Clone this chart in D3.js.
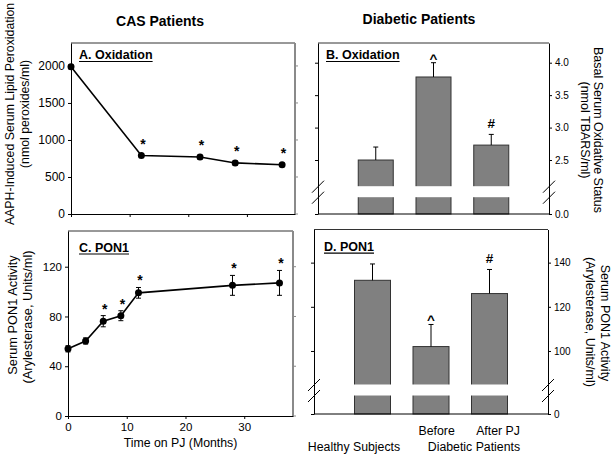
<!DOCTYPE html>
<html><head><meta charset="utf-8">
<script src="https://cdn.jsdelivr.net/npm/d3@7"></script>
<style>
body{margin:0;background:#fff}
svg{display:block}
text{font-family:"Liberation Sans",Arial,Helvetica,sans-serif;fill:#000}
</style>
</head><body>
<svg id="chart" width="614" height="460"></svg>
<script>
// ---------- data ----------
const monthsA = [0, 12, 22, 28, 36];
const oxidationA = [1990, 790, 770, 690, 665];
const oxidationAErr = [30, 22, 28, 30, 22];
const starsA = [false, true, true, true, true];

const monthsC = [0, 3, 6, 9, 12, 28, 36];
const pon1C = [54, 60.3, 76.2, 80.6, 99, 105, 107];
const pon1CErr = [2.5, 2.5, 4.5, 4, 4.3, 8, 10];
const starsC = [false, false, true, true, true, true, true];

const groups = ["Healthy Subjects", "Before", "After PJ"];
const oxidationB = [2.5, 3.78, 2.73];
const oxidationBErr = [0.2, 0.22, 0.165];
const marksB = ["", "^", "#"];

const pon1D = [132, 102, 126];
const pon1DErr = [7.4, 10, 10.9];
const marksD = ["", "^", "#"];

const ticksA = [0, 500, 1000, 1500, 2000];
const ticksAx = [0, 10, 20, 30];
const ticksC = [0, 40, 80, 120];
const ticksCx = [0, 10, 20, 30];
const ticksB = [0, 2.5, 3.0, 3.5, 4.0];
const ticksD = [0, 100, 120, 140];

const columnTitles = ["CAS Patients", "Diabetic Patients"];
const panelTitles = ["A. Oxidation", "B. Oxidation", "C. PON1", "D. PON1"];
const catLabelsD = ["Before", "After PJ"];
const groupLabelsD = ["Healthy Subjects", "Diabetic Patients"];

// ---------- drawing ----------
const svg = d3.select("#chart");
const BAR = "#808080";

function frame(g, x0, x1, y0, y1, rightGrey, yScale, ticks) {
  g.append("line").attr("x1", x0).attr("x2", x1).attr("y1", y0).attr("y2", y0)
    .attr("stroke", "#333").attr("stroke-width", 1);
  if (rightGrey) {
    g.append("line").attr("x1", x1).attr("x2", x1).attr("y1", y0).attr("y2", y1)
      .attr("stroke", "#8a8a8a").attr("stroke-width", 2);
    g.selectAll(null).data(ticks).join("line")
      .attr("x1", x1).attr("x2", x1 + 3)
      .attr("y1", d => yScale(d)).attr("y2", d => yScale(d))
      .attr("stroke", "#8a8a8a");
  }
}

function styleAxis(a, size) {
  a.select(".domain").attr("stroke", "#000").attr("stroke-width", 1);
  a.selectAll(".tick line").attr("stroke", "#000");
  a.selectAll(".tick text").attr("font-size", size).attr("fill", "#000")
    .attr("font-family", '"Liberation Sans",Arial,sans-serif');
}

function panelTitle(x, y, t) {
  const tx = svg.append("text").attr("x", x).attr("y", y)
    .attr("font-size", 12.5).attr("font-weight", "bold").text(t);
  const w = tx.node().getComputedTextLength();
  svg.append("line").attr("x1", x).attr("x2", x + w).attr("y1", y + 2.5).attr("y2", y + 2.5)
    .attr("stroke", "#000").attr("stroke-width", 1.2);
}

function rotLabel(x, y, angle, t, size) {
  svg.append("text").attr("transform", `translate(${x},${y}) rotate(${angle})`)
    .attr("text-anchor", "middle").attr("dy", "0.35em")
    .attr("font-size", size).text(t);
}

function linePanel(months, vals, errs, stars, xs, ys, yTicks, xTicks, showXLabels, starOff, tickFont) {
  const [x0, x1] = xs.range();
  const [y1, y0] = ys.range();
  const g = svg.append("g");
  frame(g, x0, x1, y0, y1, true, ys, yTicks);
  const ay = g.append("g").attr("transform", `translate(${x0},0)`)
    .call(d3.axisLeft(ys).tickValues(yTicks).tickSize(3).tickSizeOuter(0).tickPadding(3)
      .tickFormat(d3.format("d")));
  styleAxis(ay, tickFont);
  const ax = g.append("g").attr("transform", `translate(0,${y1})`)
    .call(d3.axisBottom(xs).tickValues(xTicks).tickSize(3).tickSizeOuter(0).tickPadding(4)
      .tickFormat(showXLabels ? d3.format("d") : ""));
  styleAxis(ax, tickFont);
  const data = months.map((m, i) => ({ m, v: vals[i], e: errs[i], s: stars[i] }));
  g.append("path").datum(data)
    .attr("d", d3.line().x(d => xs(d.m)).y(d => ys(d.v)))
    .attr("fill", "none").attr("stroke", "#000").attr("stroke-width", 1.6);
  const eb = g.selectAll(null).data(data).join("g");
  eb.append("line").attr("x1", d => xs(d.m)).attr("x2", d => xs(d.m))
    .attr("y1", d => ys(d.v - d.e)).attr("y2", d => ys(d.v + d.e)).attr("stroke", "#000");
  eb.append("line").attr("x1", d => xs(d.m) - 2.5).attr("x2", d => xs(d.m) + 2.5)
    .attr("y1", d => ys(d.v - d.e)).attr("y2", d => ys(d.v - d.e)).attr("stroke", "#000");
  eb.append("line").attr("x1", d => xs(d.m) - 2.5).attr("x2", d => xs(d.m) + 2.5)
    .attr("y1", d => ys(d.v + d.e)).attr("y2", d => ys(d.v + d.e)).attr("stroke", "#000");
  g.selectAll(null).data(data).join("circle")
    .attr("cx", d => xs(d.m)).attr("cy", d => ys(d.v)).attr("r", 3.5).attr("fill", "#000");
  g.selectAll(null).data(data.filter(d => d.s)).join("text")
    .attr("x", d => xs(d.m) + 1.5).attr("y", d => ys(d.v + d.e) - starOff + 8)
    .attr("text-anchor", "middle").attr("font-size", 14).attr("font-weight", "bold").text("*");
}

function barPanel(vals, errs, marks, xs, ys, yTicks, breakVal, gap, barW, fmt, tickFont) {
  const [x0, x1] = [xs.range()[0], xs.range()[1]];
  const y1 = ys(0), y0 = ys.range()[ys.range().length - 1];
  const g = svg.append("g");
  const data = groups.map((c, i) => ({ c, v: vals[i], e: errs[i], mk: marks[i] }));
  // bars
  g.selectAll(null).data(data).join("rect")
    .attr("x", d => xs(d.c) - barW / 2).attr("width", barW)
    .attr("y", d => ys(d.v)).attr("height", d => ys(0) - ys(d.v))
    .attr("fill", BAR).attr("stroke", "#333").attr("stroke-width", 1);
  // break gap
  const gy = ys(breakVal);
  g.append("rect").attr("x", x0 + 1).attr("width", x1 - x0 - 2).attr("y", gy + 0.5).attr("height", gap)
    .attr("fill", "#fff");
  // error bars
  g.selectAll(null).data(data).join("line")
    .attr("x1", d => xs(d.c)).attr("x2", d => xs(d.c))
    .attr("y1", d => ys(d.v)).attr("y2", d => ys(d.v + d.e)).attr("stroke", "#000");
  g.selectAll(null).data(data).join("line")
    .attr("x1", d => xs(d.c) - 2.5).attr("x2", d => xs(d.c) + 2.5)
    .attr("y1", d => ys(d.v + d.e)).attr("y2", d => ys(d.v + d.e)).attr("stroke", "#000");
  // marks
  g.selectAll(null).data(data.filter(d => d.mk)).join("text")
    .attr("x", d => xs(d.c)).attr("y", d => ys(d.v + d.e) - (d.mk === "^" ? 0 : 6))
    .attr("text-anchor", "middle").attr("font-size", 13.5).attr("font-weight", "bold")
    .text(d => d.mk);
  // frame
  g.append("line").attr("x1", x0).attr("x2", x1).attr("y1", y0).attr("y2", y0)
    .attr("stroke", "#333");
  const al = g.append("g").attr("transform", `translate(${x0},0)`)
    .call(d3.axisLeft(ys).tickValues(yTicks).tickSize(3).tickSizeOuter(0).tickFormat(""));
  styleAxis(al, tickFont);
  const ar = g.append("g").attr("transform", `translate(${x1},0)`)
    .call(d3.axisRight(ys).tickValues(yTicks).tickSize(3).tickSizeOuter(0).tickPadding(3).tickFormat(fmt));
  styleAxis(ar, tickFont);
  g.append("line").attr("x1", x0).attr("x2", x1).attr("y1", y1).attr("y2", y1).attr("stroke", "#000");
  // break marks
  [x0, x1].forEach(ax => {
    [gy + 1, gy + gap + 1].forEach(cy => {
      g.append("line").attr("x1", ax - 6).attr("x2", ax + 6).attr("y1", cy + 6).attr("y2", cy - 6)
        .attr("stroke", "#000").attr("stroke-width", 1);
    });
  });
}

// Panel A
const xA = d3.scaleLinear().domain([0, 38.2]).range([71, 295]);
const yA = d3.scaleLinear().domain([0, 2310]).range([214, 43]);
linePanel(monthsA, oxidationA, oxidationAErr, starsA, xA, yA, ticksA, ticksAx, false, 13, 12);

// Panel C
const xC = d3.scaleLinear().domain([0, 38.3]).range([68, 293]);
const yC = d3.scaleLinear().domain([0, 148.7]).range([416, 231]);
linePanel(monthsC, pon1C, pon1CErr, starsC, xC, yC, ticksC, ticksCx, true, 10, 11.5);

// Panel B
const xB = d3.scalePoint().domain(groups).range([318, 549]).padding(1);
const yB = d3.scaleLinear().domain([0, 2.104, 4.304]).range([214, 185.7, 43]);
barPanel(oxidationB, oxidationBErr, marksB, xB, yB, ticksB, 2.104, 11, 35, d3.format(".1f"), 10);

// Panel D
const xD = d3.scalePoint().domain(groups).range([314, 548]).padding(1);
const yD = d3.scaleLinear().domain([0, 85.05, 155]).range([414, 384, 229.5]);
barPanel(pon1D, pon1DErr, marksD, xD, yD, ticksD, 85.05, 11, 36, d3.format("d"), 10);

// Titles
svg.append("text").attr("x", 160).attr("y", 26).attr("text-anchor", "middle")
  .attr("font-size", 14).attr("font-weight", "bold").text(columnTitles[0]);
svg.append("text").attr("x", 419).attr("y", 24).attr("text-anchor", "middle")
  .attr("font-size", 14).attr("font-weight", "bold").text(columnTitles[1]);

panelTitle(79, 59, panelTitles[0]);
panelTitle(326, 59, panelTitles[1]);
panelTitle(79, 251.5, panelTitles[2]);
panelTitle(324, 250.7, panelTitles[3]);

// Axis titles
rotLabel(10, 114, -90, "AAPH-Induced Serum Lipid Peroxidation", 12.3);
rotLabel(25, 114, -90, "(nmol peroxides/ml)", 12.3);
rotLabel(13, 315, -90, "Serum PON1 Activity", 12.8);
rotLabel(28, 317, -90, "(Arylesterase, Units/ml)", 12.8);
rotLabel(598, 130, 90, "Basal Serum Oxidative Status", 12.5);
rotLabel(585, 130, 90, "(nmol TBARS/ml)", 12.5);
rotLabel(605, 323, 90, "Serum PON1 Activity", 12.5);
rotLabel(590, 322, 90, "(Arylesterase, Units/ml)", 12.5);

svg.append("text").attr("x", xC(0) + (xC.range()[1] - xC.range()[0]) * 0.5).attr("y", 447)
  .attr("text-anchor", "middle").attr("font-size", 12.3).text("Time on PJ (Months)");

// Category labels under D
svg.append("text").attr("x", xD(groups[1]) + 5.7).attr("y", 435).attr("text-anchor", "middle")
  .attr("font-size", 12.3).text(catLabelsD[0]);
svg.append("text").attr("x", xD(groups[2]) + 8.5).attr("y", 435).attr("text-anchor", "middle")
  .attr("font-size", 12.3).text(catLabelsD[1]);
svg.append("text").attr("x", xD(groups[0]) - 18.5).attr("y", 450.5).attr("text-anchor", "middle")
  .attr("font-size", 12.3).text(groupLabelsD[0]);
svg.append("text").attr("x", (xD(groups[1]) + xD(groups[2])) / 2 + 13.7).attr("y", 450.5).attr("text-anchor", "middle")
  .attr("font-size", 12.3).text(groupLabelsD[1]);
</script>
</body></html>
